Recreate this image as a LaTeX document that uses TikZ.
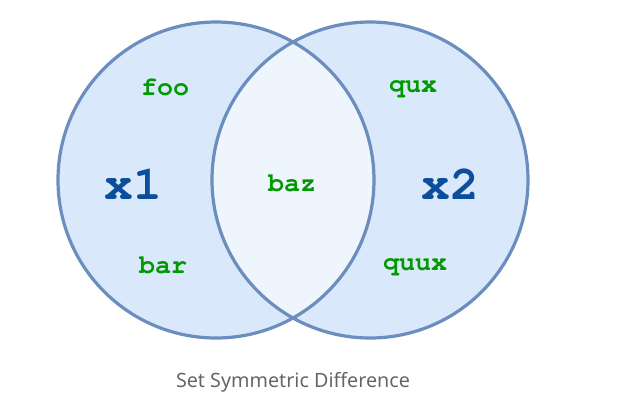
\documentclass[tikz,border=0pt]{standalone}
\usepackage[T1]{fontenc}
\usepackage{fontspec}
\setsansfont{Noto Sans}
\newcommand{\courierbf}{\fontencoding{T1}\fontfamily{pcr}\fontseries{b}\selectfont}
\definecolor{ringblue}{HTML}{6C8EBF}
\definecolor{setfill}{HTML}{DAE8FC}
\definecolor{capfill}{HTML}{EFF5FD}
\definecolor{itemgreen}{HTML}{009900}
\definecolor{setname}{HTML}{0B4F9C}
\definecolor{captiongray}{HTML}{666666}
\begin{document}
\begin{tikzpicture}[x=0.75pt, y=0.75pt, line join=round, line cap=round]
			\tikzset{ring/.style={draw=ringblue, line width=2.4pt},
				item/.style={font=\courierbf\fontsize{20}{24}\selectfont, text=itemgreen, inner sep=0pt},
				setlabel/.style={font=\courierbf\fontsize{36}{40}\selectfont, text=setname, inner sep=0pt}}
			\def\r{158}
			\useasboundingbox (0,0) rectangle (625,-412);
			% the two sets
			\fill[setfill] (216,-180) circle (\r);
			\fill[setfill] (370,-180) circle (\r);
			\begin{scope}
				\clip (216,-180) circle (\r);
				\fill[capfill] (370,-180) circle (\r);
			\end{scope}
			\draw[ring] (216,-180) circle (\r);
			\draw[ring] (370,-180) circle (\r);
			% members
			\node[setlabel] (xone) at (133,-184) {x1};
			\node[setlabel] (xtwo) at (450,-184) {x2};
			\node[item] (foo) at (165,-87) {foo};
			\node[item] (bar) at (163,-265) {bar};
			\node[item] (baz) at (292,-183) {baz};
			\node[item] (qux) at (413,-88) {qux};
			\node[item] (quux) at (415,-266) {quux};
			\node[font=\sffamily\fontsize{14.8}{17}\selectfont, text=captiongray] (caption) at (293,-382) {Set Symmetric Difference};
		\end{tikzpicture}
\end{document}
